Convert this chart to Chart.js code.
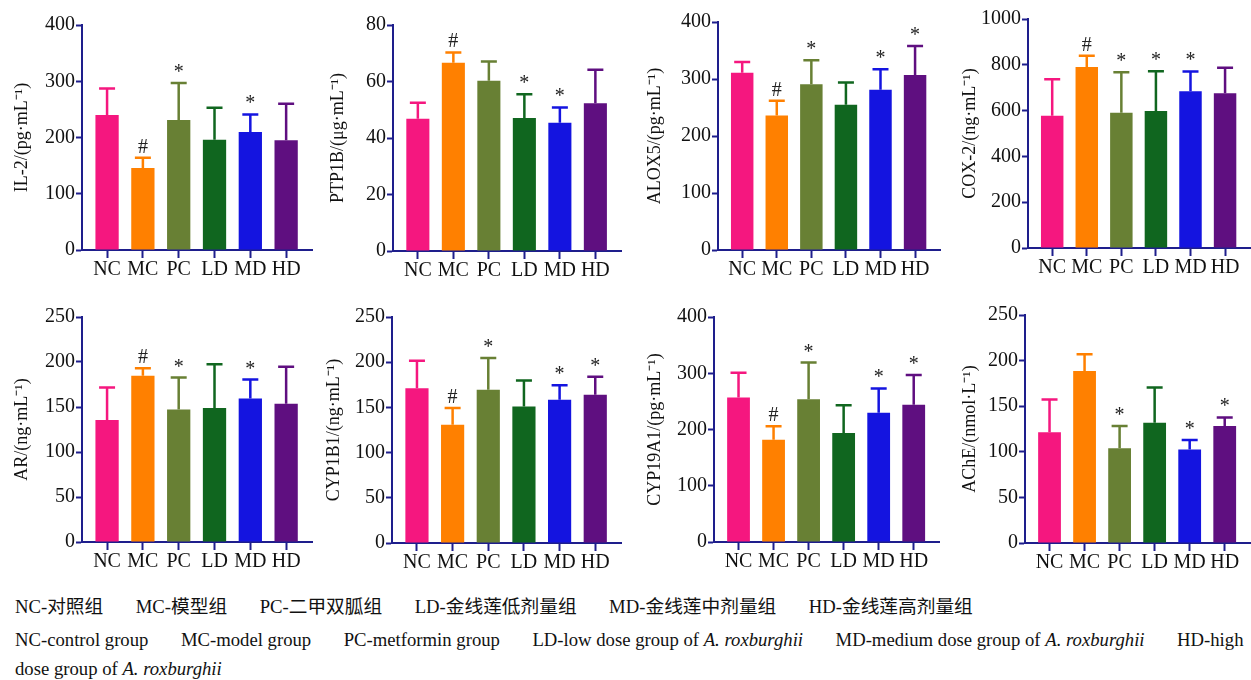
<!DOCTYPE html>
<html>
<head>
<meta charset="utf-8">
<script src="https://cdn.jsdelivr.net/npm/chart.js@4.4.0/dist/chart.umd.min.js"></script>
<style>
  body { margin: 0; background: #fff; width: 1251px; height: 680px; position: relative; overflow: hidden; }
  canvas { position: absolute; }
  .cap { position: absolute; left: 15px; font: 18.7px "Liberation Serif", "Noto Sans CJK SC", serif; color: #111; white-space: nowrap; line-height: 22px; }
  .cap span { margin-right: 32.5px; }
</style>
</head>
<body>
<canvas id="c1"></canvas><canvas id="c2"></canvas><canvas id="c3"></canvas><canvas id="c4"></canvas>
<canvas id="c5"></canvas><canvas id="c6"></canvas><canvas id="c7"></canvas><canvas id="c8"></canvas>

<div class="cap" style="top:596px"><span>NC-对照组</span><span>MC-模型组</span><span>PC-二甲双胍组</span><span>LD-金线莲低剂量组</span><span>MD-金线莲中剂量组</span><span>HD-金线莲高剂量组</span></div>
<div class="cap" style="top:629px"><span>NC-control group</span><span>MC-model group</span><span>PC-metformin group</span><span>LD-low dose group of <i>A. roxburghii</i></span><span>MD-medium dose group of <i>A. roxburghii</i></span>HD-high</div>
<div class="cap" style="top:658px">dose group of <i>A. roxburghii</i></div>

<script>
// groups
const groups = ['NC', 'MC', 'PC', 'LD', 'MD', 'HD'];

// IL-2
const il2Mean = [240, 146, 231, 196, 210, 195];
const il2Sd = [47, 18, 66, 57, 31, 65];
const il2Sig = ['', '#', '*', '', '*', ''];
const il2Ticks = [0, 400, 100];

// PTP1B
const ptpMean = [46.8, 66.6, 60.3, 47.1, 45.4, 52.3];
const ptpSd = [5.7, 3.7, 6.8, 8.4, 5.4, 11.9];
const ptpSig = ['', '#', '', '*', '*', ''];
const ptpTicks = [0, 80, 20];

// ALOX5
const aloxMean = [311, 236, 291, 255, 281, 307];
const aloxSd = [19, 26, 42, 39, 36, 51];
const aloxSig = ['', '#', '*', '', '*', '*'];
const aloxTicks = [0, 400, 100];

// COX-2
const coxMean = [577, 790, 591, 598, 684, 676];
const coxSd = [160, 50, 177, 174, 87, 111];
const coxSig = ['', '#', '*', '*', '*', ''];
const coxTicks = [0, 1000, 200];

// AR
const arMean = [135.5, 184.6, 147.3, 149, 159.5, 153.6];
const arSd = [36.2, 8.4, 35.4, 48.5, 21, 41];
const arSig = ['', '#', '*', '', '*', ''];
const arTicks = [0, 250, 50];

// CYP1B1
const cyp1Mean = [171.2, 130.9, 169.4, 151, 158.4, 163.9];
const cyp1Sd = [30.4, 18.3, 35.2, 28.7, 16.1, 20.1];
const cyp1Sig = ['', '#', '*', '', '*', '*'];
const cyp1Ticks = [0, 250, 50];

// CYP19A1
const cyp19Mean = [257, 182, 254, 194, 230, 244];
const cyp19Sd = [44, 24, 65, 49, 43, 53];
const cyp19Sig = ['', '#', '*', '', '*', '*'];
const cyp19Ticks = [0, 400, 100];

// AChE
const acheMean = [121.3, 188.7, 103.8, 131.9, 102.4, 128.3];
const acheSd = [36.1, 18.3, 24.5, 38.6, 10.6, 9.4];
const acheSig = ['', '', '*', '', '*', '*'];
const acheTicks = [0, 250, 50];

const barColors = ['#f5177f', '#ff8000', '#688034', '#10661f', '#1414e0', '#5f0f80'];
const axisColor = '#1e1e8c';
const FONT = '"Liberation Serif", "Times New Roman", serif';

// error bars (upper half only) and significance marks
const errorBars = {
  id: 'errorBars',
  afterDatasetsDraw(chart) {
    const ctx = chart.ctx;
    const y = chart.scales.y;
    const ds = chart.data.datasets[0];
    const meta = chart.getDatasetMeta(0);
    ctx.save();
    meta.data.forEach((bar, i) => {
      const top = y.getPixelForValue(ds.data[i].y + ds.sd[i]);
      ctx.strokeStyle = ds.backgroundColor[i];
      ctx.lineWidth = 2.5;
      ctx.beginPath();
      ctx.moveTo(bar.x, bar.y);
      ctx.lineTo(bar.x, top);
      ctx.moveTo(bar.x - 8, top);
      ctx.lineTo(bar.x + 8, top);
      ctx.stroke();
      if (ds.sig[i]) {
        ctx.fillStyle = '#222';
        ctx.font = '20px ' + FONT;
        ctx.textAlign = 'center';
        ctx.textBaseline = 'alphabetic';
        ctx.fillText(ds.sig[i], bar.x, top - 5);
      }
    });
    ctx.restore();
  }
};

// where each panel sits: axis x, top, bottom, right end, title offset
const panels = [
  { id: 'c1', x: 82, top: 24, bottom: 250, right: 313, d: 60, title: 'IL-2/(pg·mL⁻¹)', mean: il2Mean, sd: il2Sd, sig: il2Sig, ticks: il2Ticks },
  { id: 'c2', x: 393, top: 24, bottom: 251, right: 622, d: 55, title: 'PTP1B/(μg·mL⁻¹)', mean: ptpMean, sd: ptpSd, sig: ptpSig, ticks: ptpTicks },
  { id: 'c3', x: 718, top: 21, bottom: 250, right: 941, d: 63, title: 'ALOX5/(pg·mL⁻¹)', mean: aloxMean, sd: aloxSd, sig: aloxSig, ticks: aloxTicks },
  { id: 'c4', x: 1028, top: 18, bottom: 248, right: 1251, d: 58, title: 'COX-2/(ng·mL⁻¹)', mean: coxMean, sd: coxSd, sig: coxSig, ticks: coxTicks },
  { id: 'c5', x: 82, top: 316, bottom: 542, right: 313, d: 60, title: 'AR/(ng·mL⁻¹)', mean: arMean, sd: arSd, sig: arSig, ticks: arTicks },
  { id: 'c6', x: 392, top: 316, bottom: 543, right: 622, d: 58, title: 'CYP1B1/(ng·mL⁻¹)', mean: cyp1Mean, sd: cyp1Sd, sig: cyp1Sig, ticks: cyp1Ticks },
  { id: 'c7', x: 714, top: 316, bottom: 542, right: 940, d: 59, title: 'CYP19A1/(pg·mL⁻¹)', mean: cyp19Mean, sd: cyp19Sd, sig: cyp19Sig, ticks: cyp19Ticks },
  { id: 'c8', x: 1025, top: 314, bottom: 543, right: 1251, d: 55, title: 'AChE/(nmol·L⁻¹)', mean: acheMean, sd: acheSd, sig: acheSig, ticks: acheTicks }
];

const YW = 80, PADTOP = 12, XH = 32;

panels.forEach(p => {
  const cv = document.getElementById(p.id);
  const left = p.x - YW;
  cv.width = p.right - left;
  cv.height = p.bottom - p.top + PADTOP + XH;
  cv.style.left = left + 'px';
  cv.style.top = (p.top - PADTOP) + 'px';

  new Chart(cv, {
    type: 'bar',
    data: {
      datasets: [{
        data: p.mean.map((v, i) => ({ x: i, y: v })),
        sd: p.sd,
        sig: p.sig,
        backgroundColor: barColors,
        borderWidth: 0,
        barPercentage: 0.65,
        categoryPercentage: 1
      }]
    },
    options: {
      responsive: false,
      animation: false,
      layout: { padding: { top: PADTOP, right: 0, left: 0, bottom: 0 } },
      plugins: { legend: { display: false }, tooltip: { enabled: false } },
      scales: {
        x: {
          type: 'linear',
          min: -0.7,
          max: 5.75,
          offset: false,
          afterBuildTicks: s => { s.ticks = groups.map((g, i) => ({ value: i })); },
          afterFit: s => { s.height = XH; },
          grid: { offset: false, drawOnChartArea: false, drawTicks: true, tickLength: 8, tickWidth: 2, tickColor: axisColor },
          border: { color: axisColor, width: 2 },
          ticks: { autoSkip: false, maxRotation: 0, padding: 0, color: '#111', font: { family: FONT, size: 20 }, callback: v => groups[v] }
        },
        y: {
          min: p.ticks[0],
          max: p.ticks[1],
          afterFit: s => { s.width = YW; },
          grid: { drawOnChartArea: false, drawTicks: true, tickLength: 6, tickWidth: 2, tickColor: axisColor },
          border: { color: axisColor, width: 2 },
          ticks: { stepSize: p.ticks[2], padding: 1, color: '#111', font: { family: FONT, size: 20 }, callback: v => String(v) },
          title: {
            display: true,
            text: p.title,
            color: '#111',
            font: { family: FONT, size: 18 },
            padding: { top: YW - p.d - 10.8, bottom: 0 }
          }
        }
      }
    },
    plugins: [errorBars]
  });
});
</script>
</body>
</html>
